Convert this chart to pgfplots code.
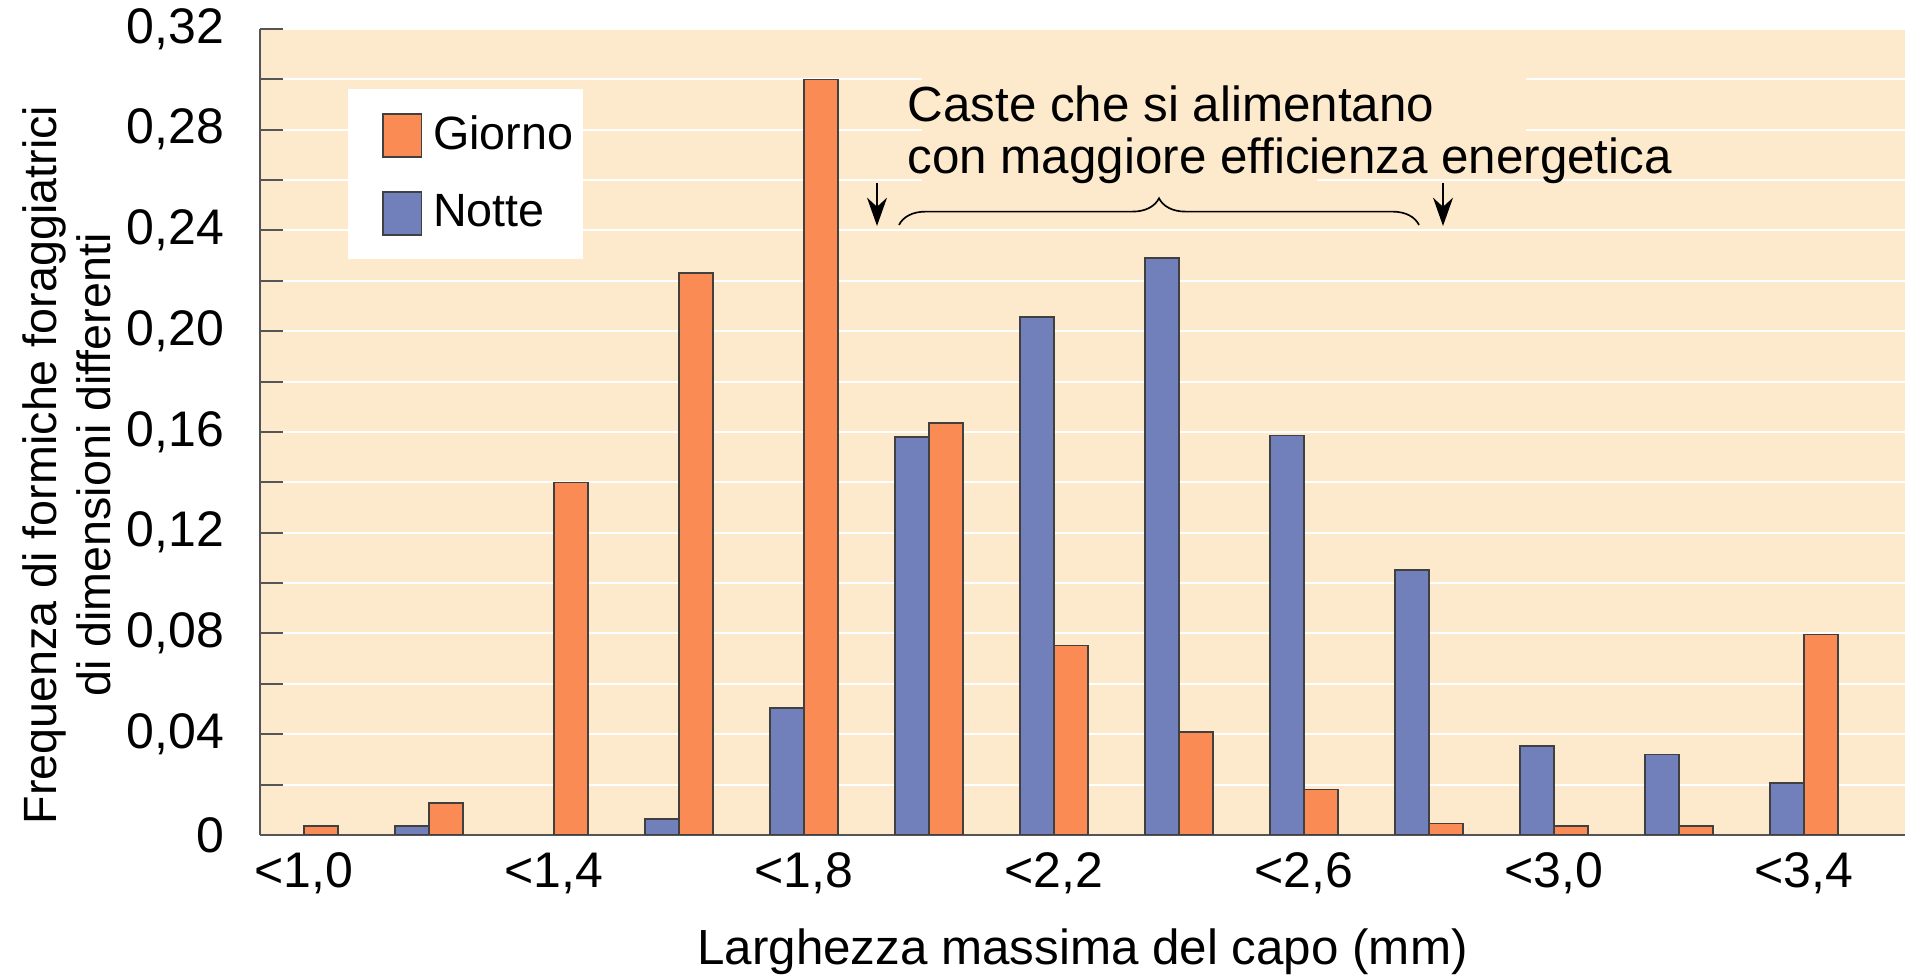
\documentclass[border=0pt]{standalone}
\usepackage{fontspec}
\setmainfont{Liberation Sans}
\usepackage{pgfplots}
\pgfplotsset{compat=1.18}
\usetikzlibrary{decorations.pathreplacing,arrows.meta}
\definecolor{peach}{RGB}{253,234,204}
\definecolor{giorno}{RGB}{250,139,84}
\definecolor{notte}{RGB}{113,128,186}
\definecolor{axgray}{RGB}{85,85,85}
\begin{document}
\begin{tikzpicture}
\begin{axis}[
  name=ax, scale only axis, width=493.5pt, height=241.8pt,
  xmin=-0.352, xmax=12.808, ymin=0, ymax=0.32,
  axis lines=left, axis line style={-, draw=axgray, line width=0.6pt},
  axis background/.style={fill=peach},
  ybar=0pt, bar width=10.2pt,
  xtick={0,2,4,6,8,10,12},
  xticklabels={{<1,0},{<1,4},{<1,8},{<2,2},{<2,6},{<3,0},{<3,4}},
  x tick style={draw=none},
  ytick={0,0.04,0.08,0.12,0.16,0.2,0.24,0.28,0.32},
  yticklabels={0,{0,04},{0,08},{0,12},{0,16},{0,20},{0,24},{0,28},{0,32}},
  minor ytick={0.02,0.06,0.10,0.14,0.18,0.22,0.26,0.30},
  tick align=inside, major tick length=7pt, minor tick length=7pt,
  y tick style={draw=axgray, line width=0.6pt},
  ymajorgrids, yminorgrids,
  major grid style={white, line width=0.6pt},
  minor grid style={white, line width=0.6pt},
  ticklabel style={font=\fontsize{15}{18}\selectfont},
  xticklabel style={yshift=-1.8pt},
  yticklabel style={xshift=-7.2pt},
  every axis x label/.style={at={(rel axis cs:0.5,0)}, anchor=base, yshift=-39pt, font=\fontsize{14.8}{17}\selectfont},
  every axis y label/.style={at={(rel axis cs:-0.1173,0.459)}, rotate=90, anchor=center, align=center, font=\fontsize{14}{16.2}\selectfont},
  xlabel={Larghezza massima del capo (mm)},
  ylabel={Frequenza di formiche foraggiatrici\\di dimensioni differenti},
  legend style={at={(rel axis cs:0.0529,0.9268)}, anchor=north west, draw=none, fill=white,
    inner xsep=1pt, inner ysep=6.2pt, row sep=8pt,
    font=\fontsize{14}{16}\selectfont, cells={anchor=west},
    /tikz/every odd column/.append style={column sep=1.3pt}},
  legend image code/.code={\path (-9.25pt,0pt); \draw[#1, draw=black!75, line width=0.5pt] (0pt,-6.5pt) rectangle (11.6pt,6.5pt);},
  reverse legend,
]
\addplot[fill=notte, draw=black!75, line width=0.5pt] coordinates {
 (1,0.0035) (3,0.0064) (4,0.0505) (5,0.158) (6,0.2057) (7,0.229) (8,0.1586)
 (9,0.1052) (10,0.0354) (11,0.032) (12,0.0207)};
\addlegendentry{Notte}
\addplot[fill=giorno, draw=black!75, line width=0.5pt] coordinates {
 (0,0.0035) (1,0.0128) (2,0.140) (3,0.223) (4,0.300) (5,0.1636) (6,0.0752)
 (7,0.041) (8,0.018) (9,0.0045) (10,0.0036) (11,0.0036) (12,0.0796)};
\addlegendentry{Giorno}
\fill[peach] (axis cs:4.944,0.27) rectangle (axis cs:9.776,0.305);
\fill[peach] (axis cs:4.944,0.255) rectangle (axis cs:8.104,0.265);
\node[anchor=base west, inner sep=0pt, font=\fontsize{14.8}{17}\selectfont] at (axis cs:4.824,0.2834) {Caste che si alimentano};
\node[anchor=base west, inner sep=0pt, font=\fontsize{14.8}{17}\selectfont] at (axis cs:4.824,0.2626) {con maggiore efficienza energetica};
\draw[decorate, decoration={brace, amplitude=8pt, aspect=0.5}, line width=0.5pt] (axis cs:4.76,0.2422) -- (axis cs:8.92,0.2422);
\draw[line width=0.5pt, -{Stealth[length=8.5pt, width=6pt]}] (axis cs:4.584,0.2589) -- (axis cs:4.584,0.2418);
\draw[line width=0.5pt, -{Stealth[length=8.5pt, width=6pt]}] (axis cs:9.112,0.2589) -- (axis cs:9.112,0.2418);
\end{axis}
\pgfresetboundingbox
\path (ax.south west) ++(-78pt,-42.6pt) coordinate (bl);
\path (ax.north east) ++(0pt,8.7pt) coordinate (tr);
\path (bl) rectangle (tr);
\end{tikzpicture}
\end{document}
